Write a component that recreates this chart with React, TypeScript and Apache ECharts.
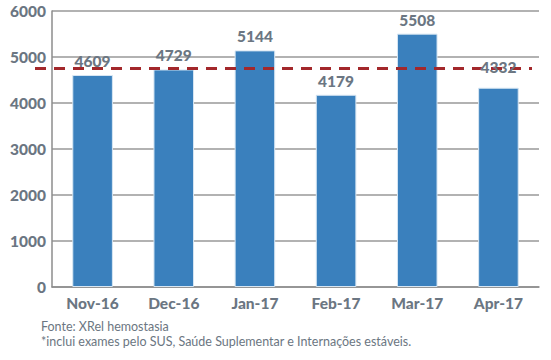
import React, { useEffect, useRef } from "react";
import * as echarts from "echarts";

const categories = ["Nov-16", "Dec-16", "Jan-17", "Feb-17", "Mar-17", "Apr-17"];
const values = [4609, 4729, 5144, 4179, 5508, 4332];
const yTicks = [0, 1000, 2000, 3000, 4000, 5000, 6000];
const footerLines = [
  "Fonte: XRel hemostasia",
  "*inclui exames pelo SUS, Saúde Suplementar e Internações estáveis.",
];

export default function App() {
  const ref = useRef<HTMLDivElement>(null);
  useEffect(() => {
    if (!ref.current) return;
    const chart = echarts.init(ref.current, null, { renderer: "svg" });
    const avg = values.reduce((a, b) => a + b, 0) / values.length;
    const gray = "#6b7682";
    const font = "Lato, 'Open Sans', sans-serif";
    const labelData = values.map((v, i) =>
      i === values.length - 1 ? { value: v, label: { distance: 13 } } : v
    );
    chart.setOption({
      animation: false,
      grid: [
        { left: 52, right: 12, top: 11, bottom: 73 },
        { left: 35, right: 19, top: 11, bottom: 73 },
      ],
      xAxis: [
        {
          type: "category",
          data: categories,
          gridIndex: 0,
          axisLine: { lineStyle: { color: "#8c8c8c", width: 1.5 } },
          axisTick: { show: false },
          axisLabel: { color: gray, fontWeight: 900, fontSize: 15.5, fontFamily: font, margin: 8 },
        },
        {
          type: "category",
          data: ["a", "b"],
          gridIndex: 1,
          show: false,
          boundaryGap: false,
        },
      ],
      yAxis: [
        {
          type: "value",
          min: 0,
          max: 6000,
          interval: 1000,
          gridIndex: 0,
          axisLine: { show: true, lineStyle: { color: "#8c8c8c", width: 1.5 } },
          axisTick: { show: false },
          splitLine: { lineStyle: { color: "#999999", width: 1.5 } },
          axisLabel: {
            color: gray,
            fontWeight: 900,
            fontSize: 15.5,
            fontFamily: font,
            margin: 6,
            formatter: (v: number) => (yTicks.includes(v) ? String(v) : ""),
          },
        },
        {
          type: "value",
          min: 0,
          max: 6000,
          gridIndex: 1,
          show: false,
        },
      ],
      series: [
        {
          type: "bar",
          data: values,
          xAxisIndex: 0,
          yAxisIndex: 0,
          barWidth: "50%",
          itemStyle: { color: "#3a80bd", borderColor: "#d7e6f3", borderWidth: 1 },
          z: 2,
        },
        {
          type: "line",
          data: [avg, avg],
          xAxisIndex: 1,
          yAxisIndex: 1,
          symbol: "none",
          lineStyle: { color: "#a3282b", width: 3, type: [11, 8] },
          z: 3,
        },
        {
          type: "bar",
          data: labelData,
          xAxisIndex: 0,
          yAxisIndex: 0,
          barWidth: "50%",
          barGap: "-100%",
          itemStyle: { color: "rgba(0,0,0,0)" },
          silent: true,
          label: {
            show: true,
            position: "top",
            distance: 6,
            color: gray,
            fontWeight: 900,
            fontSize: 15.5,
            fontFamily: font,
          },
          z: 4,
        },
      ],
      graphic: footerLines.map((t, i) => ({
        type: "text",
        left: 41,
        top: 320 + i * 15,
        style: { text: t, fill: gray, fontSize: 12.5, fontFamily: font },
      })),
    });
    return () => chart.dispose();
  }, []);
  return (
    <div
      ref={ref}
      style={{ position: "absolute", left: 0, top: 0, width: 551, height: 360 }}
    />
  );
}
